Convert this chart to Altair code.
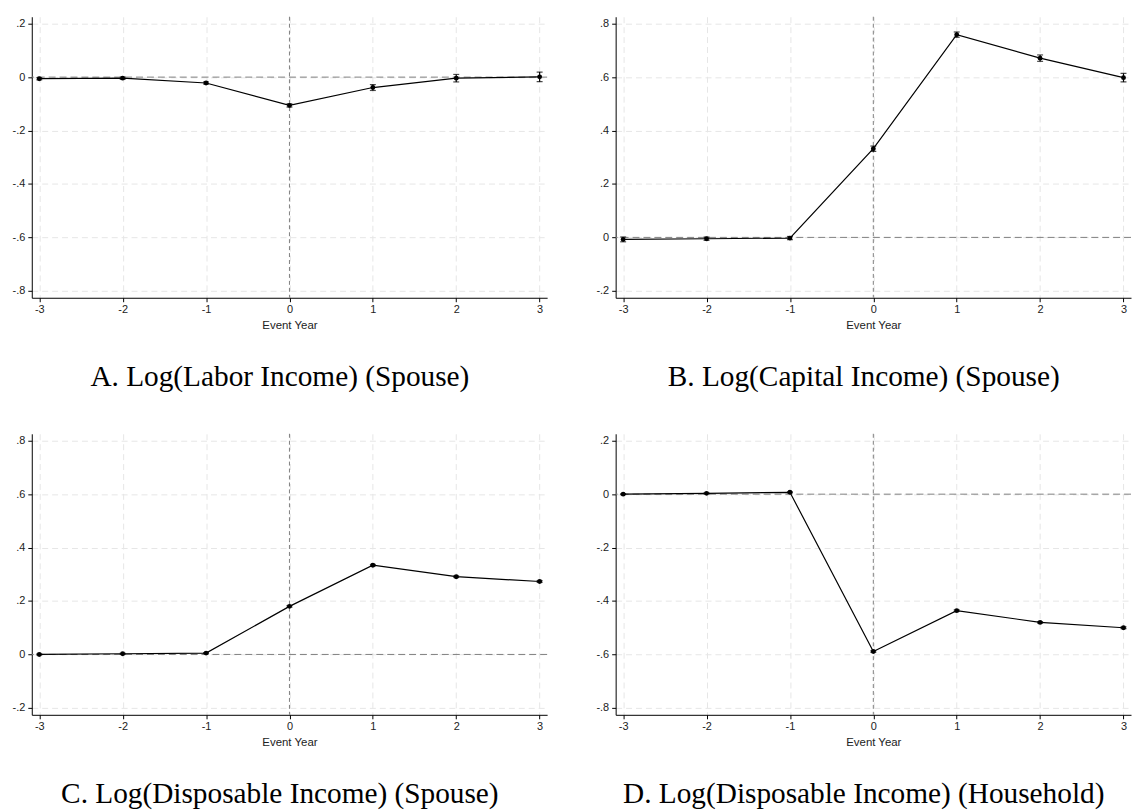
import altair as alt
import pandas as pd

# ---- data ----
event_years = [-3, -2, -1, 0, 1, 2, 3]

labor_est = [-0.006, -0.004, -0.022, -0.106, -0.039, -0.004, 0.001]
labor_ci = [0.004, 0.004, 0.004, 0.006, 0.011, 0.014, 0.018]

capital_est = [-0.0075, -0.005, -0.0025, 0.332, 0.759, 0.671, 0.598]
capital_ci = [0.009, 0.006, 0.006, 0.010, 0.010, 0.012, 0.016]

disp_sp_est = [0.0, 0.0025, 0.005, 0.180, 0.334, 0.291, 0.273]
disp_sp_ci = [0.002, 0.002, 0.002, 0.003, 0.003, 0.003, 0.003]

disp_hh_est = [0.0, 0.003, 0.007, -0.589, -0.436, -0.480, -0.500]
disp_hh_ci = [0.002, 0.002, 0.002, 0.003, 0.003, 0.003, 0.003]

ticks_neg = [-0.8, -0.6, -0.4, -0.2, 0, 0.2]
ticks_pos = [-0.2, 0, 0.2, 0.4, 0.6, 0.8]

titles = [
    "A. Log(Labor Income) (Spouse)",
    "B. Log(Capital Income) (Spouse)",
    "C. Log(Disposable Income) (Spouse)",
    "D. Log(Disposable Income) (Household)",
]

X_DOMAIN = [-3.09, 3.09]
W, H = 519, 283
AX_FONT = "Liberation Sans"
TITLE_FONT = "Liberation Serif"

Y_LABEL = ("datum.value == 0 ? '0' : (datum.value < 0 ? '-' : '') + '.' + "
           "format(abs(datum.value) * 10, '.0f')")
X_LABEL = ("datum.value < 0 ? '-' + format(abs(datum.value), 'd') : "
           "format(datum.value, 'd')")


def panel(est, ci, yticks, title):
    df = pd.DataFrame({
        "year": event_years,
        "est": est,
        "lo": [e - c for e, c in zip(est, ci)],
        "hi": [e + c for e, c in zip(est, ci)],
    })
    ydom = [min(yticks) - 0.026, max(yticks) + 0.026]
    xs = alt.Scale(domain=X_DOMAIN, nice=False, zero=False)
    ys = alt.Scale(domain=ydom, nice=False, zero=False)
    xaxis = alt.Axis(values=event_years, labelExpr=X_LABEL, title="Event Year",
                     grid=True, gridDash=[6, 4], gridColor="#e6e6e6",
                     tickSize=4, labelPadding=2, titlePadding=5,
                     labelFont=AX_FONT, labelFontSize=11, labelColor="#222",
                     titleFont=AX_FONT, titleFontSize=11.5, titleFontWeight="normal",
                     titleColor="#222", domainColor="black", tickColor="black")
    yaxis = alt.Axis(values=yticks, labelExpr=Y_LABEL, title=None,
                     grid=True, gridDash=[6, 4], gridColor="#e6e6e6",
                     tickSize=4, labelPadding=3,
                     labelFont=AX_FONT, labelFontSize=11, labelColor="#222",
                     domainColor="black", tickColor="black")

    base = alt.Chart(df)
    line = base.mark_line(color="black", strokeWidth=1.2).encode(
        x=alt.X("year:Q", scale=xs, axis=xaxis),
        y=alt.Y("est:Q", scale=ys, axis=yaxis),
    )
    hline = alt.Chart(pd.DataFrame({"v": [0]})).mark_rule(
        color="#808080", strokeDash=[7, 4], strokeWidth=1
    ).encode(y="v:Q")
    vline = alt.Chart(pd.DataFrame({"v": [0]})).mark_rule(
        color="#808080", strokeDash=[4, 3], strokeWidth=1
    ).encode(x="v:Q")
    err = base.mark_errorbar(ticks={"size": 6, "color": "black"}, color="black",
                             thickness=1.2).encode(
        x="year:Q", y=alt.Y("lo:Q", title=None), y2="hi:Q")
    pts = base.mark_circle(size=24, color="black", opacity=1).encode(
        x="year:Q", y="est:Q")

    return alt.layer(hline, vline, err, line, pts).properties(
        width=W, height=H,
        title=alt.TitleParams(text=title, orient="bottom", anchor="middle",
                              frame="bounds", font=TITLE_FONT, fontSize=29.5,
                              fontWeight="normal", color="black", offset=32),
    )


pA = panel(labor_est, labor_ci, ticks_neg, titles[0])
pB = panel(capital_est, capital_ci, ticks_pos, titles[1])
pC = panel(disp_sp_est, disp_sp_ci, ticks_pos, titles[2])
pD = panel(disp_hh_est, disp_hh_ci, ticks_neg, titles[3])

chart = alt.vconcat(
    alt.hconcat(pA, pB, spacing=48),
    alt.hconcat(pC, pD, spacing=48),
    spacing=42,
).properties(
    padding={"left": 12, "top": 13, "right": 0, "bottom": 0},
    background="white",
).configure_view(stroke=None)

chart.save("out.html", embed_options={"renderer": "svg", "actions": False})
